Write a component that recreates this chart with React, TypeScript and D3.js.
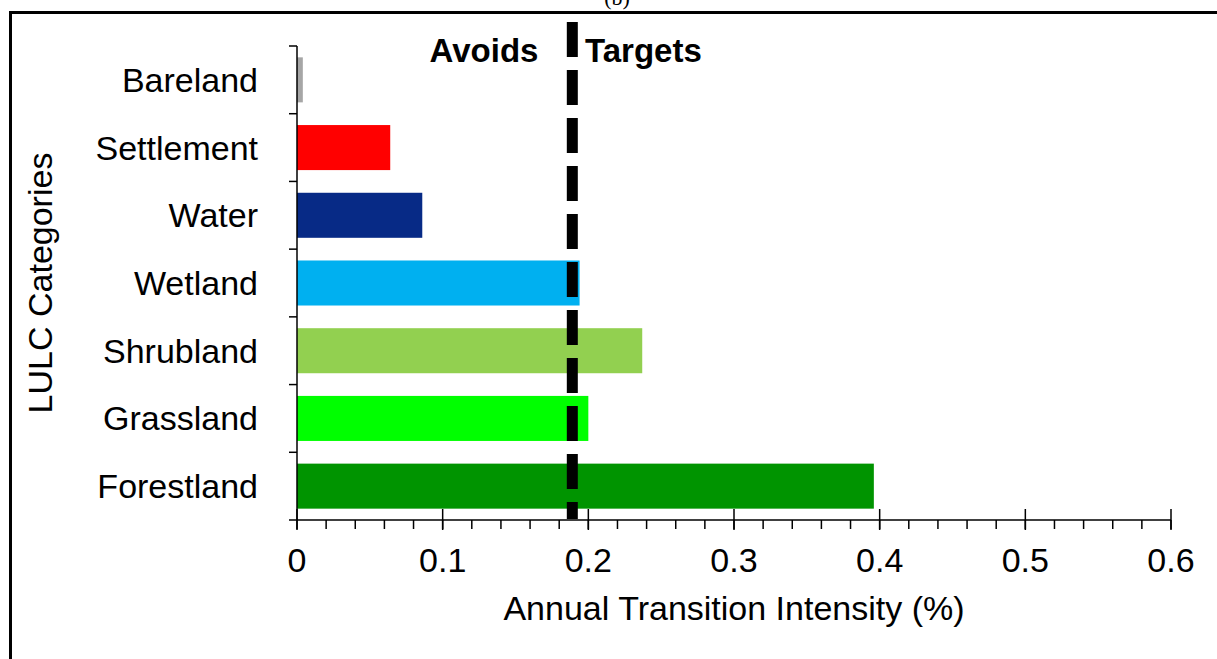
import React from "react";
import * as d3 from "d3";

const categories = ["Bareland", "Settlement", "Water", "Wetland", "Shrubland", "Grassland", "Forestland"];
const intensities = [0.004, 0.064, 0.086, 0.194, 0.237, 0.200, 0.396];
const barColors = ["#a6a6a6", "#ff0000", "#072a86", "#00b0f0", "#92d050", "#00ff00", "#009400"];
const uniformIntensity = [0.189];
const xTicks = [0, 0.1, 0.2, 0.3, 0.4, 0.5, 0.6];

const W = 1217, H = 659;
const left = 297, right = 1171, top = 46, bottom = 520;

export default function App() {
  const x = d3.scaleLinear().domain([0, 0.6]).range([left, right]);
  const y = d3.scaleBand<string>().domain(categories).range([top, bottom]).paddingInner(0.335).paddingOuter(0.1675);
  const boundaries = d3.range(categories.length + 1).map(i => top + (i * (bottom - top)) / categories.length);
  const minor = d3.range(0, 0.6001, 0.02);
  const u = x(uniformIntensity[0]);
  const font = "Liberation Sans, Arial, sans-serif";
  return (
    <svg width={W} height={H} style={{ position: "absolute", left: 0, top: 0, background: "#fff" }}>
      <rect x={0} y={0} width={W} height={H} fill="#fff" />
      <text x={617} y={5} textAnchor="middle" fontFamily="Liberation Serif, Times New Roman, serif" fontSize={22}>(b)</text>
      <line x1={10} x2={W} y1={12.5} y2={12.5} stroke="#000" strokeWidth={3} />
      <line x1={10.5} x2={10.5} y1={11} y2={H} stroke="#000" strokeWidth={3} />
      {categories.map((c, i) => (
        <rect key={c} x={x(0)} y={y(c)} width={x(intensities[i]) - x(0)} height={y.bandwidth()} fill={barColors[i]} />
      ))}
      {/* y axis */}
      <line x1={left} x2={left} y1={top} y2={bottom} stroke="#000" strokeWidth={1.5} />
      {boundaries.map((b, i) => (
        <line key={i} x1={left - 8} x2={left} y1={b} y2={b} stroke="#000" strokeWidth={1.5} />
      ))}
      {categories.map(c => (
        <text key={c} x={258} y={y(c)! + y.bandwidth() / 2 + 12} textAnchor="end" fontFamily={font} fontSize={34}>{c}</text>
      ))}
      {/* x axis */}
      <line x1={left} x2={right} y1={bottom} y2={bottom} stroke="#000" strokeWidth={1.5} />
      {minor.map((t, i) => (
        <line key={i} x1={x(t)} x2={x(t)} y1={bottom} y2={bottom + 9} stroke="#000" strokeWidth={1.5} />
      ))}
      {xTicks.map(t => (
        <g key={t}>
          <line x1={x(t)} x2={x(t)} y1={bottom - 11} y2={bottom + 10} stroke="#000" strokeWidth={1.5} />
          <text x={x(t)} y={572} textAnchor="middle" fontFamily={font} fontSize={34}>{d3.format("")(t)}</text>
        </g>
      ))}
      <text x={734} y={620} textAnchor="middle" fontFamily={font} fontSize={34}>Annual Transition Intensity (%)</text>
      <text transform={`translate(52,283) rotate(-90)`} textAnchor="middle" fontFamily={font} fontSize={34}>LULC Categories</text>
      {/* uniform intensity line */}
      <line x1={u} x2={u} y1={22} y2={519} stroke="#000" strokeWidth={11} strokeDasharray="35,13" />
      <text x={484} y={62} textAnchor="middle" fontFamily={font} fontSize={33} fontWeight="bold">Avoids</text>
      <text x={585} y={62} textAnchor="start" fontFamily={font} fontSize={33} fontWeight="bold">Targets</text>
    </svg>
  );
}
